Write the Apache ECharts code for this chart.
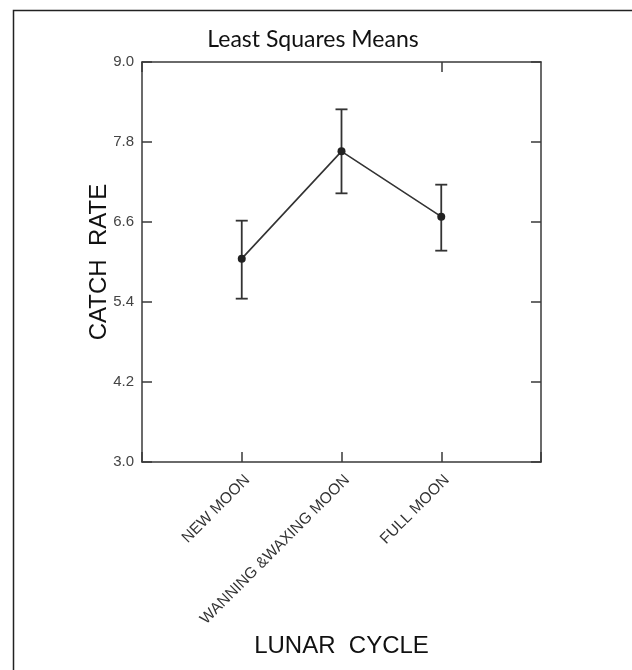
<!DOCTYPE html>
<html>
<head>
<meta charset="utf-8">
<script src="https://cdn.jsdelivr.net/npm/echarts@6/dist/echarts.min.js"></script>
<style>html,body{margin:0;padding:0;background:#fff;}#c{width:632px;height:670px;}</style>
</head>
<body>
<div id="c"></div>
<script>
var categories = ['', 'NEW MOON', 'WANNING &WAXING MOON', 'FULL MOON', ''];
var means = [null, 6.05, 7.66, 6.68, null];
var upper = [null, 6.62, 8.29, 7.16, null];
var lower = [null, 5.45, 7.03, 6.17, null];
var yTicks = {min: 3.0, max: 9.0, step: 1.2};

var errData = [];
for (var i = 0; i < categories.length; i++) {
  if (means[i] != null) errData.push([i, lower[i], upper[i]]);
}
var axisCol = '#3a3a3a';
var chart = echarts.init(document.getElementById('c'), null, {renderer: 'canvas'});
chart.setOption({
  animation: false,
  backgroundColor: '#fff',
  title: {
    text: 'Least Squares Means',
    left: 308, top: 23, textAlign: 'center',
    textStyle: {fontFamily: 'Lato', fontWeight: 'normal', fontSize: 23, color: '#111'}
  },
  graphic: [{
    type: 'rect', left: 11, top: 8, silent: true,
    shape: {width: 620, height: 700},
    style: {fill: 'none', stroke: '#222', lineWidth: 1.5}
  }],
  grid: {left: 142, top: 62, right: 91, bottom: 208},
  xAxis: [{
    type: 'category', data: categories, boundaryGap: false, position: 'bottom',
    axisLine: {lineStyle: {color: axisCol, width: 1.5}},
    axisTick: {inside: true, length: 10, lineStyle: {color: axisCol, width: 1.5}},
    axisLabel: {rotate: 45, interval: 0, margin: 10, verticalAlign: 'top',
      fontFamily: 'Liberation Sans', fontSize: 15.5, color: '#333'},
    splitLine: {show: false},
    name: 'LUNAR  CYCLE', nameLocation: 'middle', nameGap: 172, nameMoveOverlap: false,
    nameTextStyle: {fontFamily: 'Liberation Sans', fontSize: 24, color: '#111'}
  }, {
    type: 'category', data: categories, boundaryGap: false, position: 'top',
    axisLine: {lineStyle: {color: axisCol, width: 1.5}},
    axisTick: {inside: true, length: 10, lineStyle: {color: axisCol, width: 1.5}},
    axisLabel: {show: false}, splitLine: {show: false}
  }],
  yAxis: [{
    type: 'value', min: yTicks.min, max: yTicks.max, interval: yTicks.step, position: 'left',
    axisLine: {show: true, lineStyle: {color: axisCol, width: 1.5}},
    axisTick: {show: true, inside: true, length: 10, lineStyle: {color: axisCol, width: 1.5}},
    axisLabel: {margin: 8, fontFamily: 'Liberation Sans', fontSize: 15, color: '#444',
      formatter: function (v) { return v.toFixed(1); }},
    splitLine: {show: false},
    name: 'CATCH  RATE', nameLocation: 'middle', nameGap: 31, nameMoveOverlap: false,
    nameTextStyle: {fontFamily: 'Liberation Sans', fontSize: 24, color: '#111'}
  }, {
    type: 'value', min: yTicks.min, max: yTicks.max, interval: yTicks.step, position: 'right',
    axisLine: {show: true, lineStyle: {color: axisCol, width: 1.5}},
    axisTick: {show: true, inside: true, length: 10, lineStyle: {color: axisCol, width: 1.5}},
    axisLabel: {show: false}, splitLine: {show: false}
  }],
  series: [{
    type: 'custom',
    data: errData,
    z: 3,
    renderItem: function (params, api) {
      var x = api.value(0);
      var lo = api.coord([x, api.value(1)]);
      var hi = api.coord([x, api.value(2)]);
      var hw = 6;
      var st = {stroke: '#333', lineWidth: 1.8};
      return {type: 'group', children: [
        {type: 'line', shape: {x1: lo[0], y1: lo[1], x2: hi[0], y2: hi[1]}, style: st},
        {type: 'line', shape: {x1: lo[0] - hw, y1: lo[1], x2: lo[0] + hw, y2: lo[1]}, style: st},
        {type: 'line', shape: {x1: hi[0] - hw, y1: hi[1], x2: hi[0] + hw, y2: hi[1]}, style: st}
      ]};
    }
  }, {
    type: 'line', data: means, connectNulls: true, z: 4,
    symbol: 'circle', symbolSize: 8,
    lineStyle: {color: '#333', width: 1.6},
    itemStyle: {color: '#222'}
  }]
});
</script>
</body>
</html>
